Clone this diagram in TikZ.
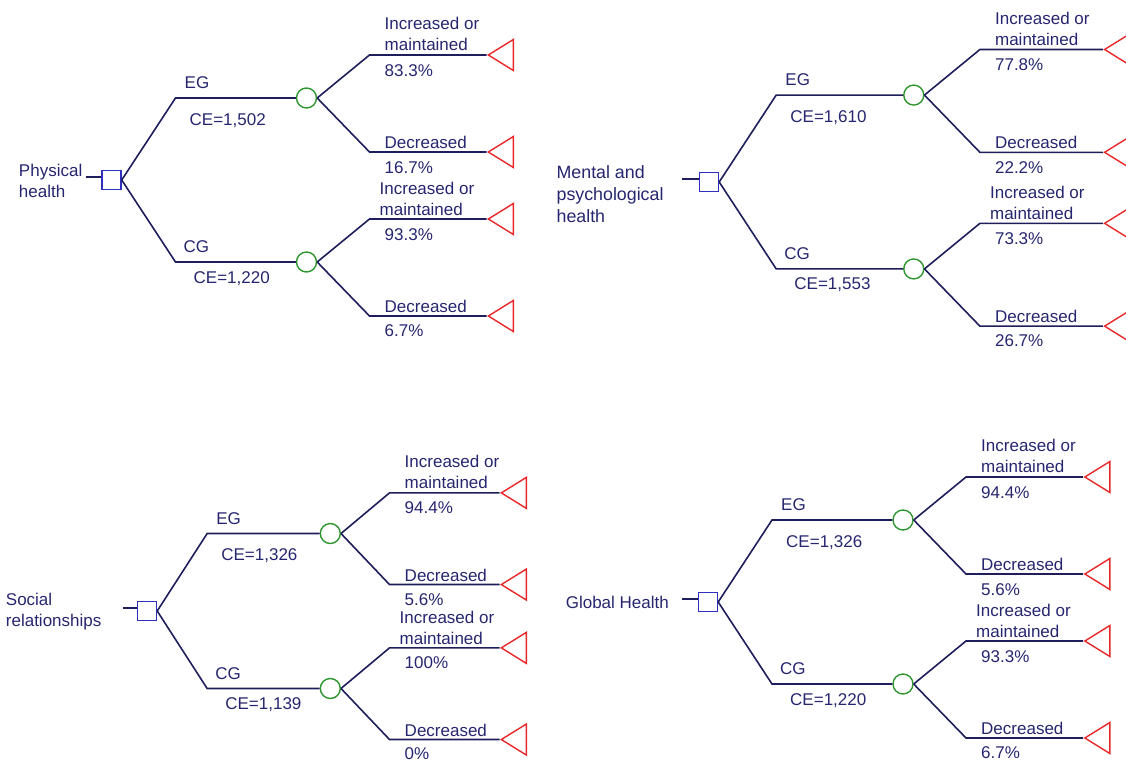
\documentclass[tikz,border=0pt]{standalone}
\usepackage{fontspec}
\setmainfont{Liberation Sans}
\usetikzlibrary{positioning,shapes.geometric}
\tikzset{>=latex}
\definecolor{treeline}{RGB}{30,30,92}
\definecolor{treetext}{RGB}{38,38,112}
\definecolor{decblue}{RGB}{48,48,190}
\definecolor{chgreen}{RGB}{46,150,46}
\definecolor{endred}{RGB}{232,40,40}
\tikzset{
  branch/.style={draw=treeline, line width=1.6pt},
  decision/.style={draw=decblue, rectangle, minimum size=19pt, inner sep=0pt, line width=1.4pt},
  chance/.style={draw=chgreen, circle, minimum size=20pt, inner sep=0pt, line width=1.4pt},
  terminal/.style={draw=endred, isosceles triangle, isosceles triangle stretches, shape border rotate=180,
    minimum width=31pt, minimum height=25pt, inner sep=0pt, anchor=apex, line width=1.4pt},
  lbl/.style={text=treetext, inner sep=0pt, font=\fontsize{17}{21}\selectfont, align=left}
}

\begin{document}
\begin{tikzpicture}[x=1pt, y=-1pt]
  \useasboundingbox (0,0) rectangle (1126,762);
  \foreach \n/\sx/\sy/\xs/\ys/\ceE/\ceC/\pa/\pb/\pc/\pd in {
      ph/111.5/180/1/1/{1,502}/{1,220}/83.3/16.7/93.3/6.7,
      mh/709/182/1.05/1.06/{1,610}/{1,553}/77.8/22.2/73.3/26.7,
      sr/147/611/0.94/0.945/{1,326}/{1,139}/94.4/5.6/100/0,
      gh/708/602/1/1/{1,326}/{1,220}/94.4/5.6/93.3/6.7}{
    \begin{scope}[shift={(\sx,\sy)}, xscale=\xs, yscale=\ys]
      \node[decision] (\n-sq) at (0,0) {};
      \coordinate (\n-stub) at (-26,-3);
      \coordinate (\n-eg) at (64,-82);
      \coordinate (\n-cg) at (64,82);
      \node[chance] (\n-c1) at (195,-82) {};
      \node[chance] (\n-c2) at (195,82) {};
      \coordinate (\n-o1) at (258,-125);
      \coordinate (\n-o2) at (258,-28);
      \coordinate (\n-o3) at (258,39);
      \coordinate (\n-o4) at (258,136);
      \node[terminal] (\n-t1) at (375,-125) {};
      \node[terminal] (\n-t2) at (375,-28) {};
      \node[terminal] (\n-t3) at (375,39) {};
      \node[terminal] (\n-t4) at (375,136) {};
    \end{scope}
    \draw[branch] (\n-stub) -- (\n-stub -| \n-sq.west);
    \draw[branch] (\n-sq.east) -- (\n-eg) -- (\n-c1.west);
    \draw[branch] (\n-sq.east) -- (\n-cg) -- (\n-c2.west);
    \foreach \ko/\ci in {1/1,2/1,3/2,4/2}
      \draw[branch] (\n-c\ci.east) -- (\n-o\ko) -- (\n-t\ko.apex);
    % branch and outcome labels
    \node[lbl, above right=9pt and 9pt of \n-eg] (\n-egl) {EG};
    \node[lbl, below right=15pt and 14pt of \n-eg] (\n-cee) {CE=\ceE};
    \node[lbl, above right=9pt and 8pt of \n-cg] (\n-cgl) {CG};
    \node[lbl, below right=9pt and 18pt of \n-cg] (\n-cec) {CE=\ceC};
    \node[lbl, above right=4pt and 15pt of \n-o1] (\n-l1) {Increased or\\maintained};
    \node[lbl, below right=9pt and 15pt of \n-o1] (\n-p1) {\pa\%};
    \node[lbl, above right=3pt and 15pt of \n-o2] (\n-l2) {Decreased};
    \node[lbl, below right=9pt and 15pt of \n-o2] (\n-p2) {\pb\%};
    \node[lbl, above right=3pt and 10pt of \n-o3] (\n-l3) {Increased or\\maintained};
    \node[lbl, below right=9pt and 15pt of \n-o3] (\n-p3) {\pc\%};
    \node[lbl, above right=3pt and 15pt of \n-o4] (\n-l4) {Decreased};
    \node[lbl, below right=8pt and 15pt of \n-o4] (\n-p4) {\pd\%};
  }
  % root labels
  \node[lbl, left=3pt of ph-stub, yshift=-3.5pt] (ph-root) {Physical\\health};
  \node[lbl, left=18pt of mh-stub, yshift=-15pt, font=\fontsize{17.8}{22}\selectfont] (mh-root) {Mental and\\psychological\\health};
  \node[lbl, left=21pt of sr-stub, yshift=-3.5pt] (sr-root) {Social\\relationships};
  \node[lbl, left=13pt of gh-stub, yshift=-3pt] (gh-root) {Global Health};
\end{tikzpicture}
\end{document}
